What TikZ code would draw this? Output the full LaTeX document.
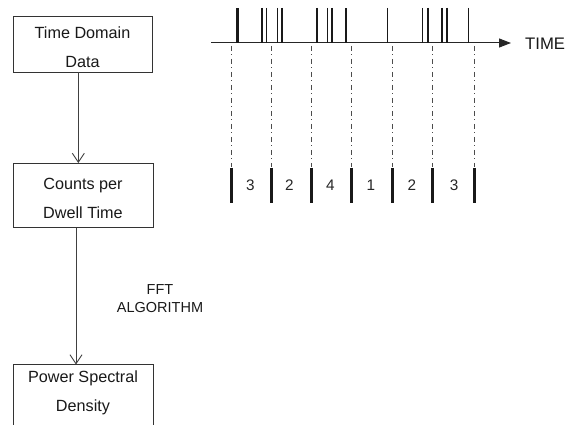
\documentclass[tikz,border=0pt]{standalone}
\usepackage{fontspec}
\setmainfont{Liberation Sans}
\usetikzlibrary{arrows.meta}
\begin{document}
\begin{tikzpicture}[x=1pt,y=-1pt,
  boxline/.style={draw=black!80, line width=0.9pt},
  boxtext/.style={font=\fontsize{16.2}{29}\selectfont, align=center, inner sep=0pt, text=black!90},
  flow/.style={draw=black!75, line width=0.9pt, -{Straight Barb[length=9pt,width=12pt,line width=0.9pt]}},
  spike/.style={draw=black!90, line width=1.6pt},
  thickspike/.style={draw=black!90, line width=2.6pt},
  tick/.style={draw=black!70, line width=0.9pt, dash pattern=on 5pt off 3.5pt on 1pt off 3.5pt},
  bar/.style={draw=black!90, line width=2.6pt},
  count/.style={font=\fontsize{15.3}{18}\selectfont, text=black!85, inner sep=0pt},
  label/.style={font=\fontsize{14.5}{18}\selectfont, align=center, inner sep=0pt, text=black!90}]
\clip (0,0) rectangle (573,425);
\fill[white] (0,0) rectangle (573,425);
% boxes
\node[boxline, minimum width=139pt, minimum height=56pt, inner sep=0pt] (tdd) at (82.5,44) {};
\node[boxtext] (tddt) at (82.5,47.5) {Time Domain\\Data};
\node[boxline, minimum width=140pt, minimum height=64pt, inner sep=0pt] (cpd) at (83,195.5) {};
\node[boxtext] (cpdt) at (83,198) {Counts per\\Dwell Time};
\coordinate (psdtop) at (83,364.5);
\draw[boxline] (13,430) -- (13,364.5) -- (153,364.5) -- (153,430);
\node[boxtext] (psdt) at (83,393) {Power Spectral\\Density};
% connectors
\draw[flow] (tdd.south -| 78.3,0) -- (cpd.north -| 78.3,0);
\draw[flow] (cpd.south -| 76,0) -- (psdtop -| 76,0);
\node[label] (fft) at (160,299) {FFT\\ALGORITHM};
% time axis
\coordinate (axstart) at (211,43);
\coordinate (axend) at (511,43);
\draw[draw=black!85, line width=1pt, -{Triangle[length=12pt,width=9pt]}] (axstart) -- (axend);
\node[font=\fontsize{16.7}{18}\selectfont, anchor=west, inner sep=0pt, text=black!90] (time) at (525,44) {TIME};
% spikes
\foreach \x in {262,266.5,277.5,282,316.7,327.5,332,387.3,422.3,427.7,441.7,446.7,468.3}
  \draw[spike] (\x,8) -- (\x,43);
\foreach \x in {237.3,345.8}
  \draw[thickspike] (\x,8.5) -- (\x,43);
% dwell intervals
\foreach \x in {231.7,271.2,311.7,351.7,392.3,432.3,474.3} {
  \draw[tick] (\x,46) -- (\x,167);
  \draw[bar] (\x,168) -- (\x,203);
}
\node[count] (c1) at (250.5,185) {3};
\node[count] (c2) at (289.5,185) {2};
\node[count] (c3) at (330.5,185) {4};
\node[count] (c4) at (371,185) {1};
\node[count] (c5) at (412,185) {2};
\node[count] (c6) at (454,185) {3};
\end{tikzpicture}
\end{document}
